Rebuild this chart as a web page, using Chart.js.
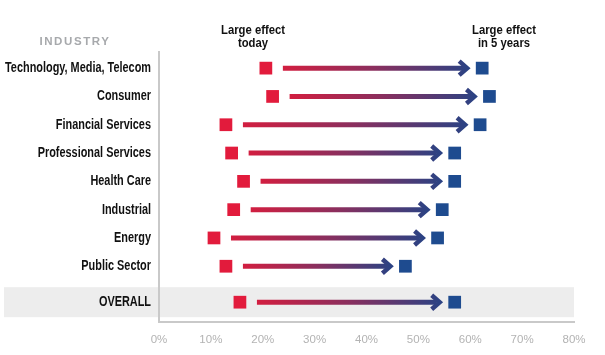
<!DOCTYPE html>
<html><head><meta charset="utf-8">
<script src="https://cdn.jsdelivr.net/npm/chart.js@4.4.1/dist/chart.umd.min.js"></script>
<style>html,body{margin:0;padding:0;background:#fff}#wrap{width:605px;height:355px;position:relative}</style>
</head><body><div id="wrap"><canvas id="c" width="605" height="355"></canvas></div>
<script>
const categories = ["Technology, Media, Telecom","Consumer","Financial Services","Professional Services","Health Care","Industrial","Energy","Public Sector","OVERALL"];
const today = [20.6, 21.9, 12.9, 14.0, 16.3, 14.4, 10.6, 12.9, 15.6];
const in5years = [62.3, 63.7, 61.9, 57.0, 57.0, 54.6, 53.7, 47.5, 57.0];
const xTicks = [0,10,20,30,40,50,60,70,80];

const FONT = "'Liberation Sans','Arial',sans-serif";
const RED = '#e21b3c', BLUE = '#1e4b8f';
const rowY = i => (i === categories.length - 1 ? i + 0.27 : i);
const pts = arr => arr.map((v,i)=>({x:v,y:rowY(i)}));

function condText(ctx, txt, x, y, align, sx){
  ctx.save();
  ctx.translate(x, y);
  ctx.scale(sx, 1);
  ctx.textAlign = align;
  ctx.fillText(txt, 0, 0);
  ctx.restore();
}

const decor = {
  id:'decor',
  beforeDraw(chart){
    const {ctx, chartArea, scales:{y}} = chart;
    const yc = y.getPixelForValue(rowY(categories.length-1));
    ctx.save();
    ctx.fillStyle = '#ededed';
    ctx.fillRect(4, yc-15, chartArea.right-4, 30);
    ctx.restore();
  },
  afterDraw(chart){
    const {ctx, chartArea, scales:{y}} = chart;
    ctx.save();
    ctx.textBaseline='middle';
    ctx.fillStyle='#111';
    ctx.font = "bold 14px "+FONT;
    const sx = 146 / ctx.measureText(categories[0]).width;
    categories.forEach((c,i)=>{
      condText(ctx, c, chartArea.left - 8, y.getPixelForValue(rowY(i)), 'right', sx);
    });
    ctx.font = "bold 13.5px "+FONT;
    const hs = 64 / ctx.measureText('Large effect').width;
    condText(ctx,'Large effect', 253, 30,'center',hs);
    condText(ctx,'today', 253, 43,'center',hs);
    condText(ctx,'Large effect', 504, 30,'center',hs);
    condText(ctx,'in 5 years', 504, 43,'center',hs);
    ctx.fillStyle='#a7a9ac';
    ctx.font = "bold 11.5px "+FONT;
    if (ctx.letterSpacing !== undefined) ctx.letterSpacing = '1.6px';
    ctx.textAlign='center';
    ctx.fillText('INDUSTRY', 75, 42);
    ctx.restore();
  },
  beforeDatasetsDraw(chart){
    const {ctx, scales:{x,y}} = chart;
    ctx.save();
    today.forEach((v,i)=>{
      const py = y.getPixelForValue(rowY(i));
      const x0 = x.getPixelForValue(v) + 17;
      const x1 = x.getPixelForValue(in5years[i]) - 15;
      const g = ctx.createLinearGradient(x0,0,x1,0);
      g.addColorStop(0,'#d21e40');
      g.addColorStop(0.5,'#8a2f5e');
      g.addColorStop(1,'#2c4283');
      ctx.strokeStyle = g;
      ctx.lineWidth = 5;
      ctx.lineCap = 'butt';
      ctx.beginPath(); ctx.moveTo(x0,py); ctx.lineTo(x1-3,py); ctx.stroke();
      ctx.lineWidth = 4.5;
      ctx.lineJoin='miter';
      ctx.beginPath();
      ctx.moveTo(x1-8,py-7); ctx.lineTo(x1,py); ctx.lineTo(x1-8,py+7);
      ctx.stroke();
    });
    ctx.restore();
  }
};

new Chart(document.getElementById('c'), {
  type:'scatter',
  data:{datasets:[
    {data:pts(today), pointStyle:'rect', radius:9, hoverRadius:9, backgroundColor:RED, borderWidth:0},
    {data:pts(in5years), pointStyle:'rect', radius:9, hoverRadius:9, backgroundColor:BLUE, borderWidth:0}
  ]},
  options:{
    responsive:false, animation:false, events:[],
    layout:{padding:{top:52,right:31,left:0,bottom:0}},
    plugins:{legend:{display:false},tooltip:{enabled:false}},
    scales:{
      x:{type:'linear', min:0, max:80,
        afterBuildTicks(s){ s.ticks = xTicks.map(v=>({value:v})); },
        grid:{display:false, drawTicks:false},
        border:{color:'#c9c9c9', width:2},
        ticks:{callback:v=>v+'%', color:'#b3b3b3', font:{family:FONT,size:11.5}, padding:11},
        afterFit(s){ s.height = 33; }
      },
      y:{type:'linear', reverse:true, min:-0.57, max:8.97,
        afterBuildTicks(s){ s.ticks = categories.map((c,i)=>({value:rowY(i)})); },
        grid:{display:false, drawTicks:false},
        border:{color:'#c9c9c9', width:2},
        ticks:{display:false},
        afterFit(s){ s.width = 159; }
      }
    }
  },
  plugins:[decor]
});
</script></body></html>
